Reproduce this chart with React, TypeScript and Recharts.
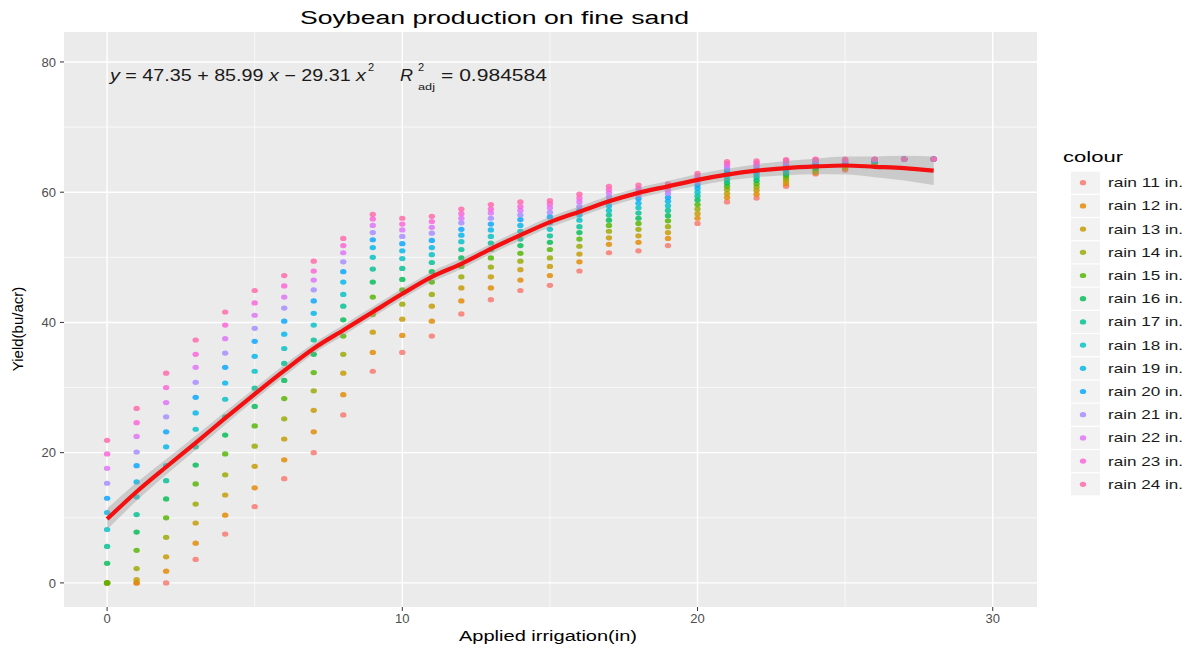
import React from 'react'
import { Area, CartesianGrid, ComposedChart, Line, Scatter, XAxis, YAxis } from 'recharts'

// Soybean yield vs applied irrigation, one point series per seasonal rainfall,
// plus the quadratic fit with its confidence ribbon.

const irrigation = [0, 1, 2, 3, 4, 5, 6, 7, 8, 9, 10, 11, 12, 13, 14, 15, 16, 17, 18, 19, 20, 21, 22, 23, 24, 25, 26, 27, 28]

const rain11 = [0, 0, 0, 3.6, 7.5, 11.7, 16.0, 20.0, 25.8, 32.5, 35.4, 37.9, 41.3, 43.5, 44.9, 45.7, 47.9, 50.7, 51.0, 51.8, 55.2, 58.5, 59.1, 60.9, 62.8, 63.4, 64.3, 65.1, 65.1]
const rain12 = [0, 0, 1.8, 6.1, 10.4, 14.6, 18.9, 23.2, 28.9, 35.4, 38.0, 40.2, 43.3, 45.3, 46.5, 47.2, 49.3, 52.0, 52.3, 52.9, 56.0, 59.2, 59.7, 61.3, 63.0, 63.6, 64.4, 65.1, 65.1]
const rain13 = [0, 0.5, 4.0, 9.2, 13.5, 17.9, 22.1, 26.5, 32.2, 38.5, 40.5, 42.5, 45.3, 47.0, 48.1, 48.6, 50.5, 53.0, 53.3, 53.8, 56.7, 59.8, 60.3, 61.7, 63.2, 63.8, 64.5, 65.1, 65.1]
const rain14 = [0, 2.2, 7.0, 12.1, 16.6, 21.0, 25.2, 29.5, 35.1, 41.2, 42.8, 44.3, 47.0, 48.5, 49.4, 49.9, 51.7, 54.0, 54.3, 54.7, 57.4, 60.4, 60.8, 62.1, 63.4, 64.0, 64.6, 65.1, 65.1]
const rain15 = [0, 5.0, 10.0, 15.2, 19.8, 24.1, 28.3, 32.3, 37.9, 43.9, 45.0, 46.2, 48.6, 49.9, 50.6, 51.2, 52.8, 54.9, 55.2, 55.6, 58.1, 60.9, 61.3, 62.5, 63.6, 64.2, 64.7, 65.1, 65.1]
const rain16 = [3.0, 7.8, 12.9, 18.1, 22.7, 27.1, 31.1, 35.1, 40.4, 46.2, 46.6, 47.8, 49.9, 51.2, 51.8, 52.3, 53.8, 55.7, 56.0, 56.4, 58.8, 61.4, 61.8, 62.8, 63.8, 64.3, 64.7, 65.1, 65.1]
const rain17 = [5.6, 10.5, 15.7, 20.9, 25.5, 29.9, 33.7, 37.3, 42.5, 48.2, 48.3, 49.2, 51.2, 52.2, 52.8, 53.3, 54.7, 56.5, 56.8, 57.2, 59.4, 61.9, 62.3, 63.1, 64.0, 64.4, 64.8, 65.1, 65.1]
const rain18 = [8.2, 13.2, 18.0, 23.6, 28.2, 32.5, 36.0, 39.6, 44.3, 50.0, 49.8, 50.4, 52.4, 53.2, 54.0, 54.3, 55.7, 57.2, 57.6, 57.9, 60.0, 62.4, 62.7, 63.4, 64.2, 64.5, 64.8, 65.1, 65.1]
const rain19 = [10.8, 15.5, 20.9, 26.1, 30.7, 34.8, 38.2, 41.4, 46.2, 51.5, 51.0, 51.5, 53.4, 54.2, 54.9, 55.3, 56.5, 57.9, 58.3, 58.6, 60.6, 62.9, 63.1, 63.7, 64.4, 64.6, 64.9, 65.1, 65.1]
const rain20 = [13.0, 18.0, 23.2, 28.5, 33.1, 37.1, 40.2, 43.3, 47.8, 52.7, 52.1, 52.6, 54.3, 55.1, 55.8, 56.2, 57.2, 58.6, 59.0, 59.2, 61.1, 63.3, 63.5, 64.0, 64.6, 64.7, 64.9, 65.1, 65.1]
const rain21 = [15.3, 20.1, 25.5, 30.8, 35.3, 39.1, 42.2, 45.0, 49.3, 53.8, 53.2, 53.7, 55.3, 56.0, 56.5, 56.9, 57.8, 59.3, 59.6, 59.8, 61.6, 63.7, 63.9, 64.3, 64.7, 64.8, 65.0, 65.1, 65.1]
const rain22 = [17.6, 22.5, 27.7, 33.1, 37.5, 41.1, 43.9, 46.5, 50.7, 54.9, 54.2, 54.6, 56.0, 56.8, 57.2, 57.6, 58.5, 59.9, 60.1, 60.3, 62.1, 64.1, 64.2, 64.6, 64.9, 64.9, 65.0, 65.1, 65.1]
const rain23 = [19.8, 24.6, 30.0, 35.1, 39.6, 43.0, 45.6, 47.9, 51.8, 55.9, 55.1, 55.5, 56.7, 57.4, 57.8, 58.2, 59.1, 60.4, 60.6, 60.8, 62.5, 64.4, 64.5, 64.8, 65.0, 65.0, 65.1, 65.1, 65.1]
const rain24 = [21.9, 26.8, 32.2, 37.3, 41.6, 44.9, 47.2, 49.4, 52.9, 56.6, 56.0, 56.3, 57.4, 58.1, 58.5, 58.7, 59.7, 60.9, 61.1, 61.3, 62.9, 64.7, 64.8, 65.0, 65.1, 65.1, 65.1, 65.1, 65.1]

const rainSeries = [rain11, rain12, rain13, rain14, rain15, rain16, rain17, rain18, rain19, rain20, rain21, rain22, rain23, rain24]
const rainLabels = ['rain 11 in.', 'rain 12 in.', 'rain 13 in.', 'rain 14 in.', 'rain 15 in.', 'rain 16 in.', 'rain 17 in.', 'rain 18 in.', 'rain 19 in.', 'rain 20 in.', 'rain 21 in.', 'rain 22 in.', 'rain 23 in.', 'rain 24 in.']
// ggplot default hue palette for 14 levels
const rainColours = ['#F8766D', '#E38900', '#C49A00', '#99A800', '#53B400', '#00BC56', '#00C094', '#00BFC4', '#00B6EB', '#06A4FF', '#A58AFF', '#DF70F8', '#FB61D7', '#FF66A8']

// quadratic fit and its confidence band
const fitYield = [9.8, 14.0, 17.8, 21.5, 25.3, 29.0, 32.6, 36.0, 38.8, 41.6, 44.4, 47.0, 49.0, 51.3, 53.4, 55.4, 57.0, 58.6, 59.9, 60.9, 61.9, 62.7, 63.3, 63.7, 63.95, 64.1, 63.9, 63.7, 63.3]
const bandLow = [8.2, 12.6, 16.6, 20.4, 24.3, 28.1, 31.7, 35.2, 38.0, 40.8, 43.6, 46.2, 48.2, 50.5, 52.6, 54.6, 56.2, 57.8, 59.1, 60.1, 61.0, 61.8, 62.3, 62.6, 62.75, 62.7, 62.3, 61.8, 61.1]
const bandHigh = [11.4, 15.4, 19.0, 22.6, 26.3, 29.9, 33.5, 36.8, 39.6, 42.4, 45.2, 47.8, 49.8, 52.1, 54.2, 56.2, 57.8, 59.4, 60.7, 61.7, 62.8, 63.6, 64.3, 64.8, 65.15, 65.5, 65.5, 65.6, 65.5]

const xTicks = [0, 10, 20, 30]
const yTicks = [0, 20, 40, 60, 80]
const xMinor = [5, 15, 25]
const yMinor = [10, 30, 50, 70]

const fitRows = irrigation.map((x, i) => ({ x, fit: fitYield[i], band: [bandLow[i], bandHigh[i]] }))

const dot = (colour: string) => (props: any) => (
  <ellipse cx={props.cx} cy={props.cy} rx={3.2} ry={2.6} fill={colour} fillOpacity={0.82} />
)

const FONT = '"Liberation Sans", Arial, Helvetica, sans-serif'

export default function App() {
  return (
    <div style={{ position: 'absolute', left: 0, top: 0, width: 1191, height: 648, background: '#fff', fontFamily: FONT }}>
      <ComposedChart width={1191} height={648} data={fitRows} margin={{ top: 32, right: 154, bottom: 11, left: 0 }}>
        <CartesianGrid fill="#EBEBEB" stroke="#FFFFFF" strokeWidth={0.7} horizontalValues={yMinor} verticalValues={xMinor} />
        <CartesianGrid stroke="#FFFFFF" strokeWidth={1.4} horizontalValues={yTicks} verticalValues={xTicks} />
        <XAxis
          type="number"
          dataKey="x"
          domain={[-1.46, 31.5]}
          ticks={xTicks}
          interval={0}
          allowDataOverflow
          height={30}
          axisLine={false}
          tickLine={{ stroke: '#333333' }}
          tickSize={4}
          tickMargin={3}
          tick={{ fill: '#4D4D4D', fontSize: 13 }}
        />
        <YAxis
          type="number"
          domain={[-3.7, 84.6]}
          ticks={yTicks}
          interval={0}
          allowDataOverflow
          width={64}
          axisLine={false}
          tickLine={{ stroke: '#333333' }}
          tickSize={4}
          tickMargin={4}
          tick={{ fill: '#4D4D4D', fontSize: 13 }}
        />
        {rainSeries.map((values, s) => (
          <Scatter
            key={rainLabels[s]}
            name={rainLabels[s]}
            data={irrigation.map((x, i) => ({ x, y: values[i] }))}
            dataKey="y"
            fill={rainColours[s]}
            shape={dot(rainColours[s])}
            isAnimationActive={false}
          />
        ))}
        <Area
          type="monotone"
          dataKey="band"
          stroke="none"
          fill="#999999"
          fillOpacity={0.4}
          isAnimationActive={false}
          zIndex={700}
        />
        <Line
          type="monotone"
          dataKey="fit"
          stroke="#F41010"
          strokeWidth={4.2}
          dot={false}
          isAnimationActive={false}
          zIndex={710}
        />
      </ComposedChart>

      <svg width={1191} height={648} style={{ position: 'absolute', left: 0, top: 0, pointerEvents: 'none' }} fontFamily={FONT}>
        <text x={300} y={24} fontSize={18} fill="#000" textLength={389} lengthAdjust="spacingAndGlyphs">
          Soybean production on fine sand
        </text>

        {/* fitted equation */}
        <g fill="#1A1A1A" fontSize={16}>
          <text x={110} y={81} textLength={256} lengthAdjust="spacingAndGlyphs">
            <tspan fontStyle="italic">y</tspan> = 47.35 + 85.99 <tspan fontStyle="italic">x</tspan> − 29.31 <tspan fontStyle="italic">x</tspan>
          </text>
          <text x={368} y={71} fontSize={11}>2</text>
          <text x={400} y={81} fontStyle="italic" textLength={13} lengthAdjust="spacingAndGlyphs">R</text>
          <text x={418} y={71} fontSize={11}>2</text>
          <text x={418} y={90} fontSize={9.5} textLength={17} lengthAdjust="spacingAndGlyphs">adj</text>
          <text x={441} y={81} textLength={106} lengthAdjust="spacingAndGlyphs">= 0.984584</text>
        </g>

        <text x={459} y={641} fontSize={15.5} fill="#000" textLength={178} lengthAdjust="spacingAndGlyphs">
          Applied irrigation(in)
        </text>
        <text
          x={0}
          y={0}
          fontSize={15}
          fill="#000"
          textAnchor="middle"
          transform="translate(23 329) rotate(-90)"
        >
          Yield(bu/acr)
        </text>

        {/* legend */}
        <text x={1063} y={162} fontSize={15} fill="#000" textLength={60} lengthAdjust="spacingAndGlyphs">colour</text>
        {rainLabels.map((label, i) => {
          const cy = 182.7 + 23.2 * i
          return (
            <g key={label}>
              <rect x={1071} y={cy - 11} width={29} height={22} fill="#F2F2F2" />
              <ellipse cx={1083} cy={cy} rx={3.2} ry={2.6} fill={rainColours[i]} fillOpacity={0.82} />
              <text x={1108} y={cy + 4.5} fontSize={13} fill="#1A1A1A" textLength={75} lengthAdjust="spacingAndGlyphs">
                {label}
              </text>
            </g>
          )
        })}
      </svg>
    </div>
  )
}
